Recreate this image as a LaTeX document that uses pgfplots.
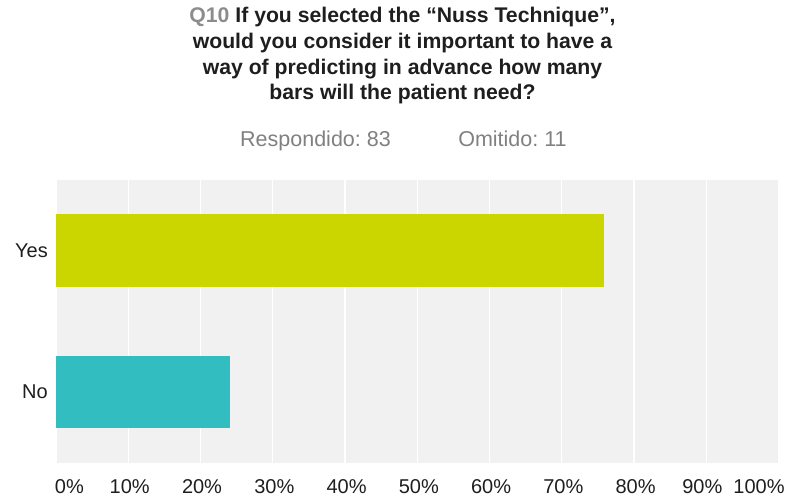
\documentclass[border=0pt]{standalone}
\usepackage{pgfplots}
\pgfplotsset{compat=1.18}
\usepackage{fontspec}
\setmainfont{Liberation Sans}
\frenchspacing
\definecolor{yesc}{HTML}{CBD500}
\definecolor{noc}{HTML}{32BEC0}
\definecolor{bgc}{HTML}{F1F1F1}
\definecolor{qgray}{HTML}{8C8C8C}
\definecolor{sgray}{HTML}{808080}
\definecolor{tblack}{HTML}{1E1E1E}
\begin{document}
\begin{tikzpicture}
\useasboundingbox (-56bp,-35.3bp) rectangle (742bp,462.7bp);
\begin{axis}[
  at={(0,0)}, anchor=south west,
  scale only axis, width=722.6bp, height=282.7bp,
  xmin=0, xmax=100, ymin=-0.5, ymax=1.5,
  xbar, bar width=72.7bp, bar shift=0pt,
  axis background/.style={fill=bgc},
  axis line style={draw=none},
  major tick length=0pt,
  xmajorgrids, ymajorgrids=false,
  major grid style={white, line width=1.2bp},
  xtick={0,10,20,30,40,50,60,70,80,90,100},
  xticklabels={\makebox[0pt][l]{\hspace*{-2.5bp}0\%},10\%,20\%,30\%,40\%,50\%,60\%,70\%,80\%,\makebox[0pt]{\hspace*{-11bp}90\%},\makebox[0pt][r]{100\%\hspace*{-4.5bp}}},
  ytick={0,1}, yticklabels={No,Yes},
  xticklabel style={anchor=north, inner sep=0pt, yshift=-17bp, xshift=1.5bp, font=\fontsize{20bp}{24bp}\selectfont, text=tblack},
  yticklabel style={anchor=east, inner sep=0pt, xshift=-8bp, font=\fontsize{20bp}{24bp}\selectfont, text=tblack},
  /pgf/number format/assume math mode=true,
  clip=false,
]
\addplot[fill=noc, draw=none] coordinates {(24.1,0)};
\addplot[fill=yesc, draw=none] coordinates {(75.9,1)};
\end{axis}
\begin{scope}[every node/.style={inner sep=0pt, anchor=base}]
\node[font=\fontsize{21.2bp}{25bp}\selectfont\bfseries, text=tblack] at (346.5bp,439.7bp) {\textcolor{qgray}{Q10} If you selected the “Nuss Technique”,};
\node[font=\fontsize{21.2bp}{25bp}\selectfont\bfseries, text=tblack] at (346.5bp,414bp) {would you consider it important to have a};
\node[font=\fontsize{21.2bp}{25bp}\selectfont\bfseries, text=tblack] at (346.5bp,388.4bp) {way of predicting in advance how many};
\node[font=\fontsize{21.2bp}{25bp}\selectfont\bfseries, text=tblack] at (346.5bp,362.7bp) {bars will the patient need?};
\node[font=\fontsize{21.5bp}{25bp}\selectfont, text=sgray] at (259.5bp,315.7bp) {Respondido: 83};
\node[font=\fontsize{21.5bp}{25bp}\selectfont, text=sgray] at (456.5bp,315.7bp) {Omitido: 11};
\end{scope}
\end{tikzpicture}
\end{document}
